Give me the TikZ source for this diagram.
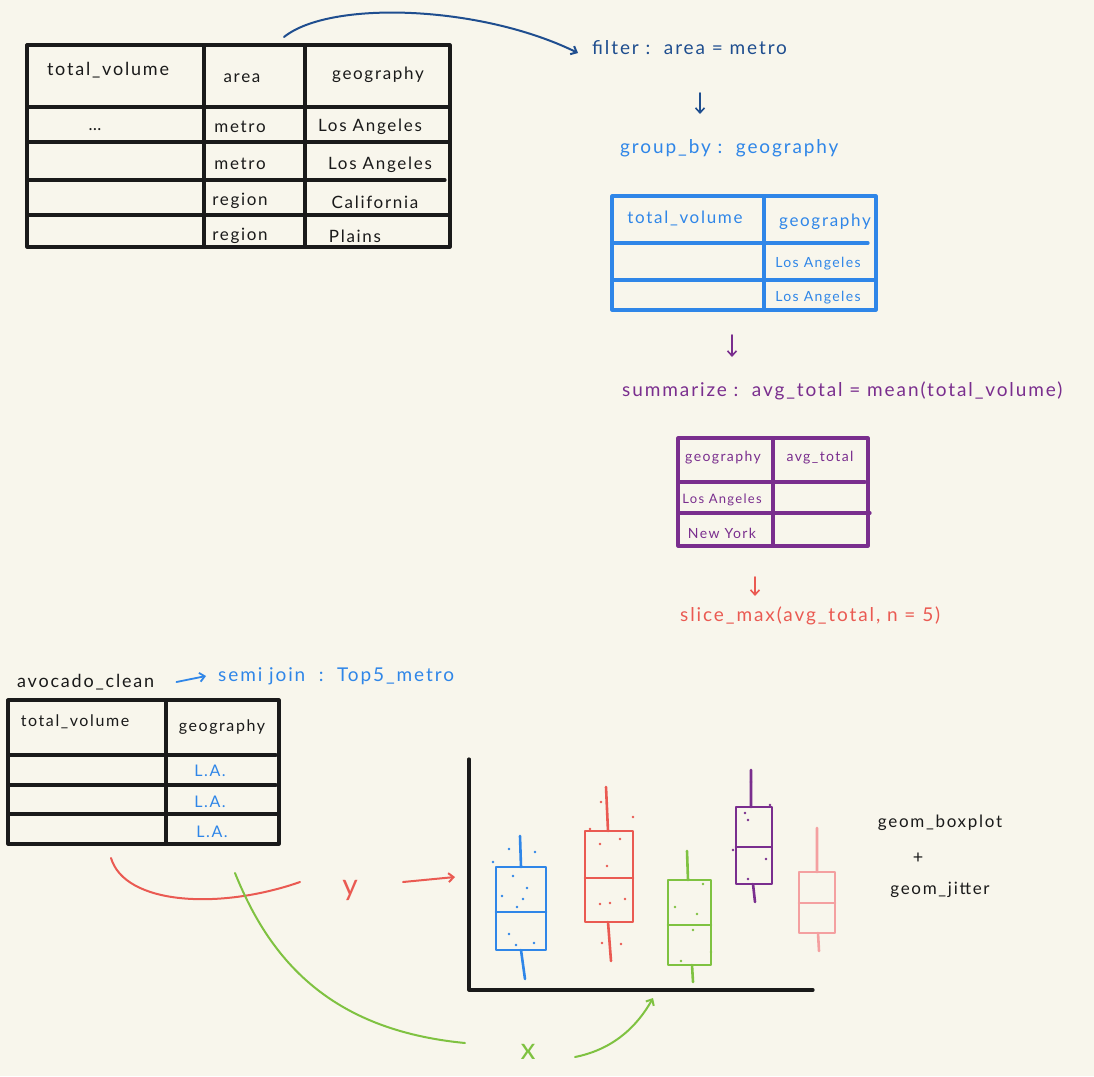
\documentclass[tikz,border=0pt]{standalone}
\usepackage{fontspec}
\setmainfont{Lato}[LetterSpace=10]
\usetikzlibrary{arrows.meta}
\definecolor{bg}{HTML}{F8F6EC}
\definecolor{navy}{HTML}{1F4E8F}
\definecolor{sky}{HTML}{2F86E8}
\definecolor{plum}{HTML}{7A2E8E}
\definecolor{coral}{HTML}{EA5A52}
\definecolor{lime}{HTML}{7FC241}
\definecolor{rose}{HTML}{F4A0A0}
\definecolor{ink}{HTML}{1A1A1A}
\begin{document}
\begin{tikzpicture}[x=1pt,y=-1pt,line cap=round,line join=round,
  grid/.style={line width=3.2pt},
  cell/.style={inner sep=0pt,font=\fontsize{17}{20}\selectfont},
  small/.style={inner sep=0pt,font=\fontsize{14}{17}\selectfont},
  lab/.style={inner sep=0pt,anchor=west,font=\fontsize{19}{22}\selectfont},
  arr/.style={-{Straight Barb[length=5pt,width=9pt]},line width=2pt},
  box/.style={line width=2.6pt},
  dot/.style={fill,circle,inner sep=0pt,minimum size=2.8pt}]
\fill[bg] (0,0) rectangle (1094,1076);
\useasboundingbox (0,0) rectangle (1094,1076);

% ---------- table 1 (black) ----------
\draw[grid,ink] (27,45) rectangle (450,247);
\draw[grid,ink] (204,45) -- (204,247) (305,45) -- (305,247);
\draw[grid,ink] (27,107) -- (450,107) (27,142) -- (450,142) (27,180) -- (445,180) (27,215) -- (450,215);
\node[cell,ink,font=\fontsize{18}{20}\selectfont] (a1) at (108,70) {total\_volume};
\node[cell,ink] (a2) at (242,78) {area};
\node[cell,ink] (a3) at (378,75) {geography};
\node[cell,ink] (a4) at (95,130) {\dots};
\node[cell,ink] (a5) at (240,127) {metro};
\node[cell,ink] (a6) at (370,127) {Los Angeles};
\node[cell,ink] (a7) at (240,164) {metro};
\node[cell,ink] (a8) at (380,165) {Los Angeles};
\node[cell,ink] (a9) at (240,201) {region};
\node[cell,ink] (a10) at (375,202) {California};
\node[cell,ink] (a11) at (240,236) {region};
\node[cell,ink] (a12) at (355,236) {Plains};
\coordinate (t1top) at (284,37);

% ---------- filter / group_by ----------
\node[lab,navy] (filter) at (592,48) {filter :\ \ area = metro};
\draw[arr,navy] (t1top) .. controls (330,0) and (480,5) .. ([xshift=-14pt,yshift=-5pt]filter.west);
\coordinate (d1a) at (700,93);
\coordinate (d1b) at (700,114);
\draw[arr,navy,line width=1.6pt] (d1a) -- (d1b);
\node[lab,sky] (group) at (620,148) {group\_by :\ \ geography};

% ---------- table 2 (blue) ----------
\draw[grid,sky] (612,196) rectangle (876,310);
\draw[grid,sky] (764,196) -- (764,310);
\draw[grid,sky] (614,243) -- (868,243) (614,280) -- (876,280);
\node[cell,sky] (b1) at (685,218) {total\_volume};
\node[cell,sky] (b2) at (825,222) {geography};
\node[small,sky] (b3) at (818,264) {Los Angeles};
\node[small,sky] (b4) at (818,298) {Los Angeles};
\coordinate (d2a) at (732,335);
\coordinate (d2b) at (732,357);
\draw[arr,plum,line width=1.6pt] (d2a) -- (d2b);

% ---------- summarize ----------
\node[lab,plum] (summ) at (622,391) {summarize :\ \ avg\_total = mean(total\_volume)};

% ---------- table 3 (purple) ----------
\draw[grid,plum] (678,438) rectangle (868,546);
\draw[grid,plum] (773,438) -- (773,546);
\draw[grid,plum] (678,482) -- (865,482) (678,513) -- (870,513);
\node[small,plum] (c1) at (723,458) {geography};
\node[small,plum] (c2) at (820,458) {avg\_total};
\node[small,plum,font=\fontsize{13}{16}\selectfont] (c3) at (722,500) {Los Angeles};
\node[small,plum] (c4) at (722,533) {New York};
\coordinate (d3a) at (755,577);
\coordinate (d3b) at (755,596);
\draw[arr,coral,line width=1.6pt] (d3a) -- (d3b);
\node[lab,coral] (slice) at (680,616) {slice\_max(avg\_total, n = 5)};

% ---------- avocado_clean / semi join ----------
\node[lab,ink,font=\fontsize{18}{21}\selectfont] (avo) at (17,682) {avocado\_clean};
\node[lab,sky] (semi) at (218,676) {semi join\ \ :\ \ Top5\_metro};
\draw[arr,sky,line width=1.8pt] ([xshift=22pt]avo.east) -- ([xshift=-12pt]semi.west);

% ---------- table 4 (black) ----------
\draw[grid,ink] (8,700) rectangle (279,844);
\draw[grid,ink] (166,700) -- (166,844);
\draw[grid,ink] (8,755) -- (276,755) (8,785) -- (276,785) (8,814) -- (279,814);
\node[cell,ink,font=\fontsize{16}{19}\selectfont] (e1) at (75,722) {total\_volume};
\node[cell,ink,font=\fontsize{16}{19}\selectfont] (e2) at (222,727) {geography};
\node[cell,sky,font=\fontsize{16}{19}\selectfont] (e3) at (210,771) {L.A.};
\node[cell,sky,font=\fontsize{16}{19}\selectfont] (e4) at (210,802) {L.A.};
\node[cell,sky,font=\fontsize{16}{19}\selectfont] (e5) at (212,832) {L.A.};

% ---------- y / x mappings ----------
\coordinate (ry0) at (111,858);
\coordinate (ry1) at (300,882);
\draw[coral,line width=2pt] (ry0) .. controls (125,905) and (220,910) .. (ry1);
\node[coral,inner sep=0pt,font=\fontsize{30}{30}\selectfont] (ylab) at (350,890) {y};
\coordinate (ya) at (403,882);
\coordinate (yb) at (455,877);
\draw[arr,coral] (ya) -- (yb);

\coordinate (gx0) at (235,873);
\coordinate (gx1) at (465,1043);
\draw[lime,line width=2pt] (gx0) .. controls (270,960) and (330,1030) .. (gx1);
\node[lime,inner sep=0pt,font=\fontsize{30}{30}\selectfont] (xlab) at (528,1052) {x};
\coordinate (xa) at (575,1057);
\coordinate (xb) at (653,998);
\draw[arr,lime] (xa) .. controls (610,1050) and (635,1030) .. (xb);

% ---------- axes ----------
\coordinate (origin) at (469,990);
\draw[ink,line width=3.2pt] (469,759) -- (origin) -- (813,990);

% ---------- boxplots ----------
% blue
\draw[box,sky] (496,867) rectangle (546,950);
\draw[box,sky] (496,912) -- (546,912);
\draw[box,sky] (520,836) -- (521,867) (521,950) -- (525,979);
\foreach \p in {(509,849),(535,852),(493,862),(513,876),(527,888),(502,896),(523,899),(517,907),(509,934),(516,945),(534,943)}
  \node[dot,sky] at \p {};
% red
\draw[box,coral] (585,831) rectangle (633,922);
\draw[box,coral] (585,878) -- (633,878);
\draw[box,coral] (606,787) -- (608,831) (608,922) -- (611,961);
\foreach \p in {(601,802),(633,817),(590,829),(600,844),(620,839),(607,866),(600,904),(610,903),(625,899),(602,943),(621,944)}
  \node[dot,coral] at \p {};
% green
\draw[box,lime] (668,880) rectangle (711,965);
\draw[box,lime] (668,925) -- (711,925);
\draw[box,lime] (687,851) -- (688,880) (692,965) -- (693,982);
\foreach \p in {(675,907),(697,914),(693,930),(681,961),(703,884),(711,952)}
  \node[dot,lime] at \p {};
% purple
\draw[box,plum] (736,807) rectangle (772,884);
\draw[box,plum] (736,847) -- (771,847);
\draw[box,plum] (751,770) -- (751,807) (753,884) -- (755,902);
\foreach \p in {(751,782),(745,813),(748,820),(733,850),(766,859),(748,879),(770,805)}
  \node[dot,plum] at \p {};
% pink
\draw[box,rose] (799,872) rectangle (835,933);
\draw[box,rose] (799,903) -- (835,903);
\draw[box,rose] (817,828) -- (817,872) (818,933) -- (819,951);

% ---------- geom labels ----------
\node[cell,ink] (g1) at (940,823) {geom\_boxplot};
\node[cell,ink,font=\fontsize{18}{19}\selectfont] (g2) at (918,858) {+};
\node[cell,ink] (g3) at (940,890) {geom\_jitter};
\end{tikzpicture}
\end{document}
